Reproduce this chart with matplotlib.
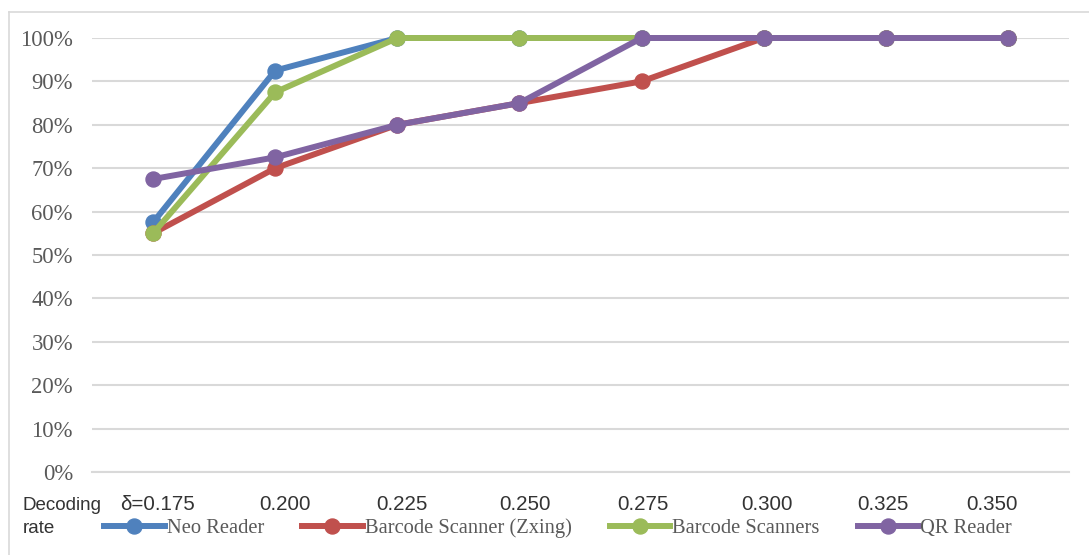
import matplotlib.pyplot as plt
from matplotlib.lines import Line2D

# decoding rate per detector threshold
deltas = ['δ=0.175', '0.200', '0.225', '0.250', '0.275', '0.300', '0.325', '0.350']
neo_reader = [57.5, 92.5, 100, 100, 100, 100, 100, 100]
zxing = [55, 70, 80, 85, 90, 100, 100, 100]
barcode_scanners = [55, 87.5, 100, 100, 100, 100, 100, 100]
qr_reader = [67.5, 72.5, 80, 85, 100, 100, 100, 100]

names = ['Neo Reader', 'Barcode Scanner (Zxing)', 'Barcode Scanners', 'QR Reader']
colors = ['#4F81BD', '#C0504D', '#9BBB59', '#8064A2']
serif = ['Liberation Serif', 'DejaVu Serif']
sans = ['Liberation Sans', 'DejaVu Sans']

# the x labels sit in a hand-placed text box, slightly off the category centres (px)
label_shift = [4, 10, 5, 6, 1, 3, -3, -16]

fig = plt.figure(figsize=(10.89, 5.55), dpi=100)
W, H = 1089, 555
ax = fig.add_axes([92 / W, (H - 472) / H, 977 / W, 434 / H])

x = list(range(len(deltas)))
for vals, c in zip([neo_reader, zxing, barcode_scanners, qr_reader], colors):
    ax.plot(x, [v / 100 for v in vals], color=c, lw=4.3, marker='o', ms=10.8,
            clip_on=False, zorder=3, solid_capstyle='round')

ax.set_xlim(-0.5, len(deltas) - 0.5)
ax.set_ylim(0, 1)
ax.set_yticks([i / 10 for i in range(11)])
ax.set_yticklabels([f'{i * 10}%' for i in range(11)], family=serif, fontsize=16.3, color='#595959')
ax.set_xticks(x)
ax.set_xticklabels([])
ax.tick_params(length=0)
ax.tick_params(axis='y', pad=13.7)
ax.grid(axis='y', color='#D9D9D9', lw=1.5)
ax.set_axisbelow(True)
for s in ['top', 'right', 'left']:
    ax.spines[s].set_visible(False)
ax.spines['bottom'].set_color('#D9D9D9')
ax.spines['bottom'].set_linewidth(1.5)

for i, (lab, dx) in enumerate(zip(deltas, label_shift)):
    ax.annotate(lab, xy=(i, 0), xycoords=('data', 'axes fraction'),
                xytext=(dx, -38), textcoords='offset pixels', ha='center', va='baseline',
                family=sans, fontsize=14.8, color='#333333', annotation_clip=False)

fig.text(23 / W, 1 - 510 / H, 'Decoding', family=sans, fontsize=13.5, color='#333333', va='baseline')
fig.text(23 / W, 1 - 533 / H, 'rate', family=sans, fontsize=13.5, color='#333333', va='baseline')

handles = [Line2D([], [], color=c, lw=4.3, marker='o', ms=10.8) for c in colors]
leg = fig.legend(handles, names, loc='center left', bbox_to_anchor=(104 / W, 1 - 528 / H),
                 ncol=4, frameon=False, handlelength=2.95, handletextpad=0.1,
                 columnspacing=1.85, borderpad=0, borderaxespad=0,
                 prop={'family': serif, 'size': 14.8})
for t in leg.get_texts():
    t.set_color('#595959')

# chart-area border (left and top only visible)
fig.add_artist(Line2D([9 / W, 9 / W], [0, 1 - 12 / H], color='#D9D9D9', lw=1.2))
fig.add_artist(Line2D([9 / W, 1], [1 - 12 / H, 1 - 12 / H], color='#D9D9D9', lw=1.2))

fig.savefig('out.png', dpi=100)
